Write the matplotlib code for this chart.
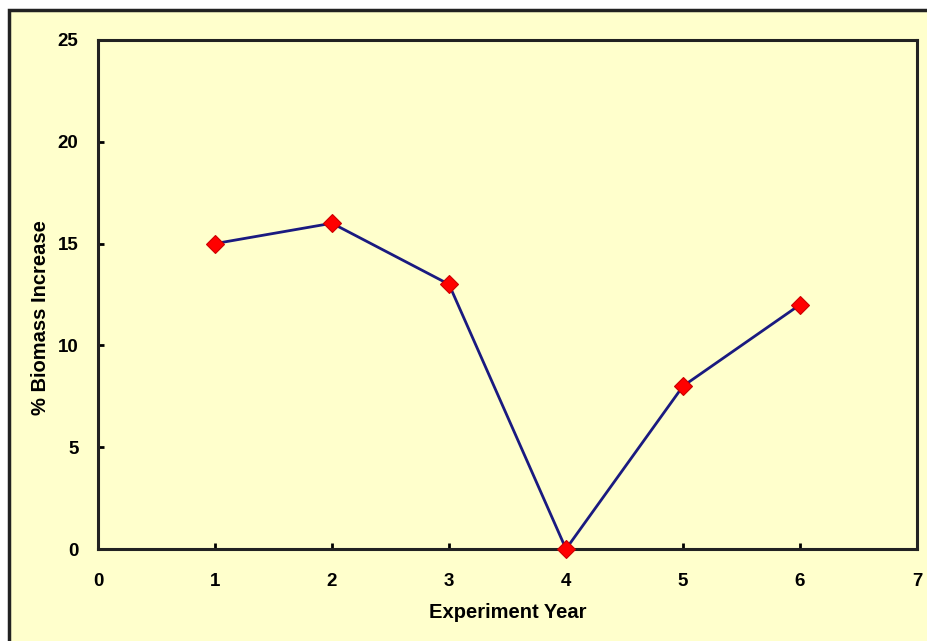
import matplotlib
matplotlib.use("Agg")
import matplotlib.pyplot as plt
from matplotlib.patches import Rectangle

years = [1, 2, 3, 4, 5, 6]
biomass = [15, 16, 13, 0, 8, 12]
xticks = [0, 1, 2, 3, 4, 5, 6, 7]
yticks = [0, 5, 10, 15, 20, 25]

bg = "#FFFFCC"
plt.rcParams['font.family'] = ['Liberation Sans', 'DejaVu Sans']

fig = plt.figure(figsize=(9.27, 6.41), dpi=100)
fig.patch.set_facecolor("white")
# chart area with black frame (runs off right/bottom edge)
fig.patches.append(Rectangle((9/927, -0.05), 1.05, 1 - 10/641 + 0.05,
                             transform=fig.transFigure, facecolor=bg,
                             edgecolor="#222222", linewidth=2.5, zorder=-1))

ax = fig.add_axes([98/927, 1 - 549/641, 819/927, 509/641])
ax.set_facecolor(bg)
ax.plot(years, biomass, color="#1a1a80", linewidth=2, marker="D",
        markersize=9.5, markerfacecolor="#ff0000", markeredgecolor="#cc0000",
        markeredgewidth=0.8, zorder=3, clip_on=False)

ax.set_xlim(0, 7)
ax.set_ylim(0, 25)
ax.set_xticks(xticks)
ax.set_yticks(yticks)
ax.tick_params(direction="in", length=4, width=2, labelsize=13.5)
ax.tick_params(axis="x", pad=17)
ax.tick_params(axis="y", pad=14)
for lab in ax.get_xticklabels() + ax.get_yticklabels():
    lab.set_fontweight("bold")
for s in ax.spines.values():
    s.set_linewidth(2.2)
    s.set_color("#222222")

ax.set_xlabel("Experiment Year", fontsize=14.5, fontweight="bold", labelpad=10)
ax.set_ylabel("% Biomass Increase", fontsize=14.5, fontweight="bold",
              labelpad=5.5, y=0.455)

fig.savefig("out.png", dpi=100, facecolor=fig.get_facecolor())
